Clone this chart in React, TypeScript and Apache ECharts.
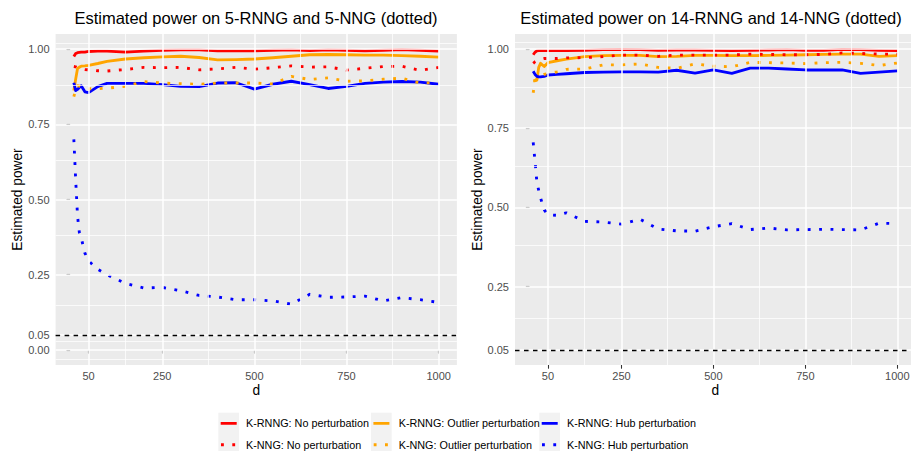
import React, { useEffect, useRef } from "react";
import * as echarts from "echarts";

// ---- data ----
const D = [10, 15, 20, 25, 30, 40, 50, 75, 100, 150, 200, 250, 300, 350, 400, 450, 500, 550, 600, 650, 700, 750, 800, 850, 900, 950, 1000];

// k = 5
const k5RnngNone = [0.975, 0.985, 0.988, 0.989, 0.99, 0.99, 0.992, 0.993, 0.993, 0.99, 0.993, 0.996, 0.997, 0.997, 0.994, 0.994, 0.994, 0.996, 0.997, 0.995, 0.997, 0.996, 0.994, 0.996, 0.998, 0.996, 0.993];
const k5RnngOut = [0.862, 0.9, 0.935, 0.94, 0.943, 0.944, 0.946, 0.952, 0.959, 0.967, 0.971, 0.974, 0.976, 0.972, 0.964, 0.965, 0.967, 0.971, 0.976, 0.981, 0.982, 0.981, 0.98, 0.98, 0.978, 0.976, 0.973];
const k5RnngHub = [0.888, 0.862, 0.866, 0.872, 0.878, 0.858, 0.855, 0.875, 0.886, 0.886, 0.886, 0.882, 0.876, 0.875, 0.887, 0.888, 0.867, 0.883, 0.893, 0.882, 0.869, 0.876, 0.886, 0.89, 0.892, 0.89, 0.883];
const k5NngNone = [0.942, 0.941, 0.938, 0.936, 0.934, 0.932, 0.931, 0.928, 0.927, 0.932, 0.939, 0.938, 0.939, 0.931, 0.934, 0.939, 0.933, 0.938, 0.944, 0.94, 0.941, 0.93, 0.936, 0.942, 0.943, 0.929, 0.939];
const k5NngOut = [0.842, 0.865, 0.878, 0.877, 0.875, 0.87, 0.868, 0.868, 0.87, 0.876, 0.892, 0.887, 0.885, 0.883, 0.887, 0.887, 0.887, 0.884, 0.909, 0.899, 0.904, 0.893, 0.894, 0.9, 0.903, 0.887, 0.888];
const k5NngHub = [0.7, 0.565, 0.445, 0.39, 0.373, 0.322, 0.296, 0.268, 0.25, 0.221, 0.206, 0.208, 0.197, 0.181, 0.176, 0.167, 0.167, 0.163, 0.152, 0.185, 0.175, 0.176, 0.179, 0.163, 0.174, 0.167, 0.158];

// k = 14
const k14RnngNone = [0.982, 0.99, 0.994, 0.995, 0.995, 0.995, 0.995, 0.995, 0.995, 0.996, 0.998, 0.999, 0.998, 0.996, 0.997, 0.997, 0.996, 0.995, 0.996, 0.997, 0.998, 0.996, 0.996, 0.999, 0.998, 0.996, 0.995];
const k14RnngOut = [0.9, 0.9, 0.902, 0.942, 0.955, 0.945, 0.957, 0.963, 0.968, 0.976, 0.979, 0.98, 0.98, 0.976, 0.977, 0.98, 0.98, 0.979, 0.979, 0.98, 0.981, 0.982, 0.983, 0.984, 0.984, 0.977, 0.979];
const k14RnngHub = [0.93, 0.92, 0.914, 0.912, 0.912, 0.914, 0.918, 0.92, 0.922, 0.926, 0.927, 0.928, 0.928, 0.927, 0.933, 0.924, 0.934, 0.923, 0.94, 0.94, 0.937, 0.934, 0.934, 0.934, 0.923, 0.927, 0.931];
const k14NngNone = [0.955, 0.96, 0.963, 0.965, 0.967, 0.97, 0.97, 0.97, 0.972, 0.973, 0.976, 0.981, 0.981, 0.977, 0.981, 0.981, 0.981, 0.981, 0.984, 0.983, 0.982, 0.982, 0.983, 0.988, 0.986, 0.984, 0.984];
const k14NngOut = [0.862, 0.9, 0.906, 0.91, 0.914, 0.92, 0.923, 0.928, 0.936, 0.937, 0.95, 0.95, 0.953, 0.942, 0.939, 0.953, 0.946, 0.944, 0.958, 0.957, 0.956, 0.954, 0.957, 0.958, 0.955, 0.948, 0.956];
const k14NngHub = [0.705, 0.645, 0.58, 0.553, 0.53, 0.492, 0.477, 0.475, 0.483, 0.456, 0.454, 0.447, 0.463, 0.432, 0.426, 0.425, 0.439, 0.449, 0.43, 0.435, 0.429, 0.43, 0.431, 0.43, 0.429, 0.45, 0.449];

const NAMES = [
  "K-RNNG: No perturbation",
  "K-RNNG: Outlier perturbation",
  "K-RNNG: Hub perturbation",
  "K-NNG: No perturbation",
  "K-NNG: Outlier perturbation",
  "K-NNG: Hub perturbation",
];
const COLORS = ["#FF0000", "#FFA500", "#0000FF", "#FF0000", "#FFA500", "#0000FF"];
const DOTTED = [false, false, false, true, true, true];

const TITLES = ["Estimated power on 5-RNNG and 5-NNG (dotted)", "Estimated power on 14-RNNG and 14-NNG (dotted)"];
const X_TICKS = [50, 250, 500, 750, 1000];
const X_MINOR = [150, 375, 625, 875];
const Y_TICKS_5 = [0, 0.05, 0.25, 0.5, 0.75, 1];
const Y_MINOR_5 = [-0.025, 0.025, 0.15, 0.375, 0.625, 0.875, 1.025];
const Y_TICKS_14 = [0.05, 0.25, 0.5, 0.75, 1];
const Y_MINOR_14 = [0.15, 0.375, 0.625, 0.875, 1.025];
const H_LINE = 0.05;

// ---- styling ----
const FONT = '"Liberation Sans", Arial, Helvetica, sans-serif';
const LW = 2.85;
const DOT: number[] = [LW, LW * 3];
const SOLID_ICON = "path://M0,0L16,0L16,2.85L0,2.85Z M20.3,0L20.3,2.85";
const DOT_ICON =
  "path://M0.3,0L3.15,0L3.15,2.85L0.3,2.85Z M11.6,0L14.45,0L14.45,2.85L11.6,2.85Z M0,0L0,2.85 M20.3,0L20.3,2.85";

function lineSeries(name: string, color: string, dotted: boolean, values: number[], idx: number) {
  return {
    type: "line",
    name,
    xAxisIndex: idx,
    yAxisIndex: idx,
    data: D.map((d, i) => [d, values[i]]),
    symbol: "none",
    showSymbol: false,
    color,
    silent: true,
    z: 3,
    lineStyle: { color, width: LW, type: dotted ? DOT : "solid", cap: "butt", join: "round" },
  };
}

function gridSeries(idx: number, yMajor: number[], yMinor: number[]) {
  const data: any[] = [];
  yMinor.forEach((v) => data.push({ yAxis: v, lineStyle: { width: 0.75 } }));
  X_MINOR.forEach((v) => data.push({ xAxis: v, lineStyle: { width: 0.75 } }));
  yMajor.forEach((v) => data.push({ yAxis: v, lineStyle: { width: 1.5 } }));
  X_TICKS.forEach((v) => data.push({ xAxis: v, lineStyle: { width: 1.5 } }));
  return {
    type: "line",
    xAxisIndex: idx,
    yAxisIndex: idx,
    data: [],
    silent: true,
    z: 1,
    markLine: {
      silent: true,
      symbol: ["none", "none"],
      label: { show: false },
      lineStyle: { color: "#FFFFFF", type: "solid", opacity: 1 },
      emphasis: { disabled: true },
      animation: false,
      data,
    },
  };
}

function hlineSeries(idx: number) {
  return {
    type: "line",
    xAxisIndex: idx,
    yAxisIndex: idx,
    data: [],
    silent: true,
    z: 2,
    markLine: {
      silent: true,
      symbol: ["none", "none"],
      label: { show: false },
      lineStyle: { color: "#000000", type: [4.5, 4.5], width: 1.4, opacity: 1 },
      emphasis: { disabled: true },
      animation: false,
      data: [{ yAxis: H_LINE }],
    },
  };
}

function xAxis(idx: number) {
  return {
    type: "value",
    gridIndex: idx,
    min: -39.5,
    max: 1049.5,
    name: "d",
    nameLocation: "middle",
    nameGap: 18,
    nameMoveOverlap: false,
    nameTextStyle: { fontFamily: FONT, fontSize: 13.75, color: "#000" },
    axisLine: { show: false },
    splitLine: { show: false },
    axisTick: { show: true, length: 3.7, customValues: X_TICKS, lineStyle: { color: "#333333", width: 1.07 } },
    axisLabel: {
      customValues: X_TICKS,
      margin: 5.5,
      fontFamily: FONT,
      fontSize: 11,
      color: "#4D4D4D",
      formatter: (v: number) => String(v),
    },
  };
}

function yAxis(idx: number, min: number, max: number, ticks: number[]) {
  return {
    type: "value",
    gridIndex: idx,
    min,
    max,
    name: "Estimated power",
    nameLocation: "middle",
    nameRotate: 90,
    nameGap: 31,
    nameMoveOverlap: false,
    nameTextStyle: { fontFamily: FONT, fontSize: 13.75, color: "#000" },
    axisLine: { show: false },
    splitLine: { show: false },
    axisTick: { show: true, length: 3.7, customValues: ticks, lineStyle: { color: "#333333", width: 1.07 } },
    axisLabel: {
      customValues: ticks,
      margin: 6,
      fontFamily: FONT,
      fontSize: 11,
      color: "#4D4D4D",
      formatter: (v: number) => v.toFixed(2),
    },
  };
}

export default function App() {
  const ref = useRef<HTMLDivElement>(null);
  useEffect(() => {
    if (!ref.current) return;
    const chart = echarts.init(ref.current, null, { renderer: "svg" });
    const k5 = [k5RnngNone, k5RnngOut, k5RnngHub, k5NngNone, k5NngOut, k5NngHub];
    const k14 = [k14RnngNone, k14RnngOut, k14RnngHub, k14NngNone, k14NngOut, k14NngHub];

    const legendCols = [220.7, 373.4, 541.7];
    const legendRows = [417.9, 439.3];
    const keyCols = [218.3, 371, 539.3];

    const legends: any[] = [];
    NAMES.forEach((name, i) => {
      legends.push({
        orient: "vertical",
        left: legendCols[i % 3],
        top: legendRows[Math.floor(i / 3)],
        itemWidth: 20.3,
        itemHeight: 10,
        itemGap: 0,
        padding: 0,
        selectedMode: false,
        symbolKeepAspect: true,
        itemStyle: { borderWidth: 0 },
        textStyle: { fontFamily: FONT, fontSize: 10.8, color: "#000" },
        data: [{ name, icon: DOTTED[i] ? DOT_ICON : SOLID_ICON }],
      });
    });

    const option: any = {
      animation: false,
      backgroundColor: "#FFFFFF",
      textStyle: { fontFamily: FONT },
      title: [
        { text: TITLES[0], left: 256, top: 9.5, textAlign: "center", padding: 0, textStyle: { fontFamily: FONT, fontSize: 16.5, fontWeight: "normal", color: "#000" } },
        { text: TITLES[1], left: 711, top: 9.5, textAlign: "center", padding: 0, textStyle: { fontFamily: FONT, fontSize: 16.5, fontWeight: "normal", color: "#000" } },
      ],
      grid: [
        { left: 55.6, top: 34, width: 401.3, height: 331, show: true, backgroundColor: "#EBEBEB", borderWidth: 0, containLabel: false, outerBoundsMode: "none" },
        { left: 515, top: 34, width: 400.5, height: 331, show: true, backgroundColor: "#EBEBEB", borderWidth: 0, containLabel: false, outerBoundsMode: "none" },
      ],
      xAxis: [xAxis(0), xAxis(1)],
      yAxis: [yAxis(0, -0.05, 1.05, Y_TICKS_5), yAxis(1, 0.0025, 1.0475, Y_TICKS_14)],
      legend: legends,
      graphic: {
        elements: keyCols.flatMap((x) =>
          [412.7, 434].map((y) => ({
            type: "rect",
            silent: true,
            z: 0,
            shape: { x, y, width: 20.7, height: 21.3 },
            style: { fill: "#F2F2F2" },
          }))
        ),
      },
      series: [
        gridSeries(0, Y_TICKS_5, Y_MINOR_5),
        gridSeries(1, Y_TICKS_14, Y_MINOR_14),
        hlineSeries(0),
        hlineSeries(1),
        ...k5.map((vals, i) => lineSeries(NAMES[i], COLORS[i], DOTTED[i], vals, 0)),
        ...k14.map((vals, i) => lineSeries(NAMES[i], COLORS[i], DOTTED[i], vals, 1)),
      ],
    };
    chart.setOption(option);
    return () => chart.dispose();
  }, []);
  return <div ref={ref} style={{ position: "fixed", left: 0, top: 0, width: 911, height: 451 }} />;
}
